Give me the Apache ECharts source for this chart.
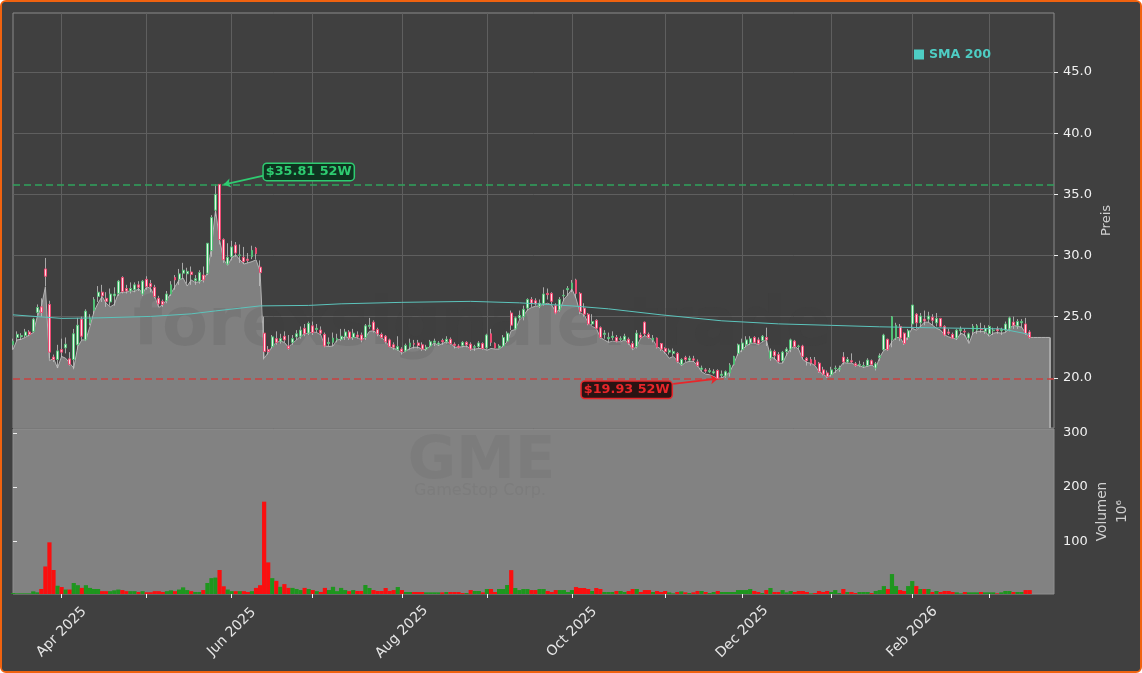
<!DOCTYPE html>
<html>
<head>
<meta charset="utf-8">
<title>GME</title>
<style>
html,body{margin:0;padding:0;background:#fff;}
#main{width:1142px;height:673px;box-sizing:border-box;border:2px solid #f0620f;border-radius:6px;background:#404040;overflow:hidden;}
</style>
<script src="https://cdn.jsdelivr.net/npm/echarts@6/dist/echarts.min.js"></script>
</head>
<body>
<div id="main"></div>
<script>
// candles: open, close, low, high per trading day
var candles=[
[22.7,23.0,22.3,23.2],[23.3,23.55,23.0,23.8],[23.35,23.45,23.1,23.65],[23.45,23.75,23.3,24.0],[23.75,23.55,23.4,23.9],[23.8,24.8,23.7,24.9],[25.35,25.75,25.1,26.0],[25.8,25.35,25.0,26.5],[28.9,28.3,27.5,29.8],[26.0,22.1,21.6,26.3],
[21.7,21.5,21.3,21.9],[21.5,22.2,20.8,22.7],[22.3,22.1,21.7,23.2],[22.45,22.75,22.0,23.3],[21.55,21.1,21.0,22.1],[21.5,23.6,20.7,24.0],[22.7,24.3,22.3,24.9],[24.8,23.4,23.1,25.0],[23.1,25.45,23.0,25.6],[24.5,24.9,24.3,25.2],
[25.5,26.4,25.2,26.6],[26.65,27.0,26.2,27.5],[27.0,26.7,26.2,27.6],[26.5,26.25,25.8,27.0],[26.2,26.85,25.9,27.3],[26.7,26.85,25.9,27.4],[26.9,27.9,26.7,28.0],[28.2,27.05,26.9,28.3],[27.3,27.1,26.9,27.6],[27.1,27.3,26.9,27.8],
[27.2,27.6,27.0,27.8],[27.6,27.4,27.1,27.9],[26.85,27.9,26.7,28.0],[28.05,27.45,27.2,28.3],[27.7,27.45,27.0,28.0],[27.4,26.65,26.5,27.6],[26.5,26.05,25.9,26.7],[26.25,26.0,25.8,26.4],[26.3,26.85,26.1,27.1],[26.85,27.6,26.7,27.9],
[28.2,28.0,27.2,28.4],[28.05,28.5,27.6,28.9],[28.55,28.8,28.1,29.4],[28.5,28.7,27.7,29.0],[28.65,28.45,27.6,29.1],[27.95,28.1,27.6,28.4],[27.9,28.6,27.7,28.8],[28.4,28.0,27.8,29.1],[28.55,31.0,28.4,31.0],[30.4,33.1,29.9,33.3],
[33.7,35.0,33.2,35.81],[35.81,31.3,30.9,35.81],[31.3,29.65,29.4,31.4],[29.3,29.85,29.2,31.0],[29.9,30.7,29.6,31.2],[30.85,30.2,29.9,31.1],[30.0,30.05,29.4,30.9],[29.85,29.5,29.3,30.7],[29.7,29.6,29.4,30.2],[29.9,30.4,29.7,30.8],
[30.6,30.15,29.7,30.7],[29.05,28.6,27.5,29.6],[23.65,22.15,21.5,25.0],[22.3,22.15,21.9,22.6],[22.55,23.35,22.4,23.5],[23.2,22.9,22.7,23.8],[23.0,23.2,22.8,23.6],[23.4,23.1,22.9,23.8],[22.6,22.4,22.3,23.5],[22.9,23.2,22.7,23.5],
[23.35,23.6,23.1,23.9],[23.4,23.9,23.2,24.2],[24.05,23.6,23.4,24.4],[23.65,24.45,23.5,24.6],[24.25,23.7,23.5,24.6],[23.95,24.05,23.7,24.4],[23.9,23.65,23.5,24.2],[23.55,22.6,22.5,23.7],[22.8,22.9,22.6,23.3],[22.9,23.25,22.6,23.7],
[23.1,23.2,22.9,23.6],[23.15,23.4,23.0,24.0],[23.4,23.75,23.1,24.0],[23.75,23.25,23.1,23.9],[23.3,23.65,23.1,24.0],[23.5,23.35,23.2,23.8],[23.5,23.1,22.9,23.7],[23.3,24.25,23.1,24.4],[24.2,24.3,24.0,24.9],[24.55,23.9,23.7,24.7],
[23.95,23.6,23.4,24.1],[23.55,23.3,23.2,23.7],[23.4,22.95,22.8,23.5],[23.1,22.55,22.5,23.2],[22.7,22.5,22.3,22.9],[22.3,22.55,22.2,23.4],[22.35,22.15,21.9,22.5],[22.2,22.65,22.1,22.8],[22.55,22.85,22.3,23.2],[22.8,22.75,22.4,23.1],
[22.85,22.65,22.4,23.1],[22.7,22.35,22.2,22.9],[22.35,22.5,22.2,22.7],[22.6,22.95,22.5,23.1],[22.9,23.0,22.6,23.2],[22.75,22.85,22.6,23.0],[23.05,22.95,22.7,23.2],[22.95,23.15,22.8,23.4],[23.15,22.8,22.7,23.3],[22.75,22.65,22.4,22.9],
[22.6,22.5,22.4,22.75],[22.65,22.9,22.5,23.0],[22.9,22.7,22.5,23.0],[22.75,22.35,22.2,22.9],[22.5,22.55,22.2,22.7],[22.55,22.85,22.4,23.0],[22.8,22.4,22.3,22.9],[22.45,23.5,22.3,23.6],[23.6,22.9,22.6,24.0],[22.8,22.45,22.4,22.9],
[22.45,22.6,22.4,22.75],[22.6,23.3,22.5,23.5],[23.0,23.65,22.9,23.8],[25.3,24.3,23.9,25.5],[24.0,24.9,23.9,25.0],[24.9,25.1,24.7,25.5],[25.0,25.6,24.7,25.9],[25.7,26.4,25.5,26.5],[26.4,26.1,25.8,26.6],[26.3,26.05,25.9,26.5],
[25.85,26.1,25.7,26.4],[26.05,26.85,25.9,27.4],[26.9,26.8,26.4,27.3],[26.9,26.25,26.0,27.0],[25.9,25.3,25.2,26.1],[25.55,26.4,25.4,26.6],[26.7,26.75,26.3,27.2],[27.2,27.3,26.7,27.5],[27.3,27.75,27.0,28.0],[28.0,26.9,26.5,28.1],
[26.9,25.4,25.2,27.0],[25.7,25.2,25.0,26.1],[25.2,24.4,24.3,25.3],[24.4,24.6,24.3,25.2],[24.7,24.05,24.0,24.8],[24.1,23.3,23.2,24.2],[23.55,23.65,23.2,23.9],[23.2,23.3,22.9,23.7],[23.3,23.4,23.1,23.8],[23.3,23.0,22.9,23.5],
[23.15,23.2,23.0,23.4],[23.1,23.4,23.0,23.6],[23.15,22.85,22.7,23.3],[22.8,22.45,22.3,23.0],[22.55,23.65,22.4,23.9],[23.5,23.3,23.2,23.7],[24.55,23.6,23.4,24.6],[23.55,23.3,23.2,23.7],[23.1,23.25,22.9,23.5],[23.25,22.5,22.4,23.3],
[22.8,22.35,22.2,22.85],[22.4,22.15,22.0,22.5],[22.1,22.25,21.9,22.4],[22.0,22.15,21.8,22.4],[22.0,21.35,21.2,22.1],[21.1,21.5,21.0,21.6],[21.65,21.5,21.3,21.8],[21.45,21.6,21.3,21.8],[21.55,21.45,21.3,21.8],[21.3,21.0,20.9,21.5],
[20.7,20.8,20.5,21.0],[20.65,20.55,20.4,20.8],[20.5,20.6,20.4,20.8],[20.4,20.5,20.3,20.7],[20.6,19.95,19.93,20.7],[20.2,20.3,20.0,20.6],[20.15,20.5,20.0,20.6],[20.4,21.05,20.1,21.2],[21.1,21.75,21.0,21.8],[22.0,22.7,21.8,22.8],
[22.3,22.85,22.1,23.2],[22.7,23.1,22.5,23.4],[22.85,23.2,22.7,23.4],[23.3,22.9,22.8,23.4],[23.1,22.8,22.7,23.3],[23.05,23.4,22.9,23.5],[23.3,23.1,22.6,24.1],[21.6,22.2,21.4,22.4],[22.15,21.8,21.5,22.3],[21.9,21.35,21.2,22.1],
[21.4,22.1,21.2,22.2],[22.15,22.35,21.8,22.5],[22.35,23.1,22.1,23.2],[23.0,22.55,22.4,23.1],[22.55,22.6,22.3,22.7],[22.6,21.75,21.5,22.7],[21.6,21.4,21.0,21.7],[21.5,21.2,21.0,21.7],[21.45,21.05,21.0,21.7],[21.2,20.5,20.4,21.3],
[20.65,20.3,20.2,20.9],[20.4,20.1,20.0,20.6],[20.25,20.65,20.1,20.9],[20.75,20.8,20.4,21.0],[20.7,20.8,20.5,21.0],[21.7,21.3,21.1,22.1],[21.3,21.5,21.2,21.7],[21.4,21.3,21.2,22.0],[21.15,21.0,20.9,21.3],[21.05,21.1,20.9,21.4],
[20.95,21.0,20.8,21.3],[21.0,21.45,20.9,21.6],[21.4,21.1,21.0,21.5],[20.8,21.15,20.6,21.3],[21.65,21.8,21.4,22.0],[22.3,23.5,22.2,23.6],[23.15,22.3,22.2,23.2],[23.1,25.0,22.5,25.05],[23.25,24.3,23.1,24.5],[24.2,23.25,23.0,24.4],
[23.65,22.8,22.7,23.7],[23.3,23.85,23.1,24.0],[24.4,25.95,24.0,25.95],[25.2,24.5,24.0,25.3],[24.5,25.05,24.1,25.3],[24.8,24.65,24.3,25.5],[24.8,25.05,24.5,25.4],[24.95,24.7,24.3,25.2],[24.5,24.85,24.2,25.3],[24.85,24.2,24.1,24.9],
[24.2,23.5,23.4,24.3],[23.75,23.65,23.5,24.0],[23.55,23.25,23.2,23.7],[23.25,23.9,23.1,24.0],[23.85,23.95,23.5,24.2],[23.8,23.75,23.4,24.0],[23.25,23.6,22.9,23.7],[23.8,24.2,23.5,24.4],[23.9,24.25,23.6,24.4],[24.0,23.95,23.7,24.5],
[23.8,24.05,23.6,24.3],[23.6,24.2,23.4,24.3],[23.85,23.9,23.5,24.1],[24.0,23.85,23.6,24.2],[23.85,23.95,23.5,24.1],[23.9,24.4,23.7,24.6],[24.0,24.9,23.8,25.0],[24.55,24.3,24.0,25.0],[24.25,24.6,24.0,24.8],[24.5,24.6,24.1,24.8],
[24.4,23.6,23.5,24.9],[23.75,23.3,23.2,23.9]
];
// the grey line and fill under the candles
var areaLine=[
22.3,23.1,23.15,23.3,23.5,23.7,25.0,25.8,27.45,21.4,
21.6,20.8,21.75,21.6,21.2,20.8,22.55,23.1,23.1,24.2,
25.4,26.1,26.65,26.1,25.8,26.0,26.9,27.0,27.0,27.15,
27.05,27.3,26.9,27.45,27.3,26.65,25.75,26.0,26.4,26.9,
27.45,28.0,28.15,27.5,28.0,27.8,27.85,28.05,28.55,30.7,
33.7,31.3,29.65,29.2,29.8,30.05,29.65,29.3,29.4,29.5,
29.65,28.7,21.6,22.05,22.55,22.9,23.0,22.9,22.5,22.83,
23.1,23.4,23.6,23.65,23.76,23.7,23.5,22.6,22.56,22.6,
23.1,23.15,23.4,23.25,23.3,23.3,23.1,23.3,23.8,23.85,
23.6,23.3,22.95,22.55,22.4,22.3,22.0,22.2,22.4,22.5,
22.5,22.35,22.3,22.6,22.85,22.65,22.8,22.95,22.85,22.5,
22.5,22.55,22.6,22.35,22.35,22.4,22.4,22.25,22.4,22.35,
22.35,22.6,22.95,23.85,23.95,24.7,25.05,25.55,25.75,25.85,
25.9,26.0,26.1,25.95,25.4,25.55,26.4,26.8,27.25,26.5,
25.3,25.15,24.5,24.2,24.05,23.3,23.1,22.9,23.0,22.95,
22.95,23.1,22.85,22.3,22.6,23.25,23.45,23.3,23.1,22.55,
22.35,22.05,21.6,21.75,21.4,21.0,21.25,21.35,21.35,21.0,
20.5,20.3,20.25,20.1,19.95,20.0,20.2,20.5,21.2,22.0,
22.3,22.6,22.8,22.85,22.7,22.95,23.1,21.7,21.6,21.2,
21.2,21.9,22.4,22.6,22.3,21.5,21.25,21.2,21.0,20.5,
20.3,20.05,20.25,20.5,20.8,21.25,21.2,21.2,21.05,21.0,
20.85,20.95,21.05,20.8,21.7,22.25,22.4,22.95,23.3,23.3,
22.75,23.5,24.05,23.9,24.2,24.55,24.55,24.3,24.05,23.9,
23.5,23.35,23.25,23.15,23.65,23.5,22.8,23.65,23.8,23.8,
23.8,23.4,23.65,23.7,23.65,23.7,24.05,24.3,24.2,24.15,
23.65,23.3,23.3,23.3,23.3,23.3,23.3
];
// volumes in millions, u = green bar, d = red bar
var volumes=[
4.5,4,4,4,4,7.6,5.8,12,53.5,98,
47,18,15.6,11,11,23,19,14,19,14,
12,12,8,8,8,9.5,11,10,8,8,
8,6.5,8,6,6,8,8,6.5,8,9.5,
8,11,15,10,8,6.5,6.5,10,23,32,
33,47,17,11,8,8,8,8,6.5,8,
14,19,173,61,32,27,16,21,14,14,
12,10,14,12,10,8,6.5,14,10,16,
8,14,10,8,10,8.3,8.3,19.3,13.8,10,
8.3,8.3,13.8,8.3,10,15.6,10,6.4,6.4,6.4,
6.4,6.4,5.8,5.8,5.8,5.8,5.8,6.4,6.4,6.4,
6.4,4.6,4.6,10,8.3,8.3,5.8,12,12,6.4,
12,12,19.3,46.8,13.8,10,12,12,10,10,
12,12,8.3,6.4,10,10,10,6.4,10,15.6,
13.8,13.8,12,8.3,13.8,12,6.4,6.4,6.4,8.3,
8.3,6.4,8.3,12,12,6.4,10,10,6.4,8.3,
6.4,8.3,5.8,4,6.4,7.6,5.8,4.6,5.8,8.3,
8.3,6.4,4.6,6.4,8.3,6.4,6.4,6.4,6.4,10,
10,10,12,8.3,6.4,4.6,10,13.8,6.4,6.4,
10,5.8,8.3,6.4,8.3,8.3,6.4,4,4.6,8.3,
6.4,8.3,6.4,10,4.6,12,6.4,6.4,4.6,6.4,
6.4,6.4,4.6,8.3,10,17.4,12,39.5,17.4,10,
8.3,17.4,26.6,17.4,12,12,12,6.4,8.3,6.4,
8.3,8.3,6.4,5.8,4,6.4,5.8,5.8,5.8,6.4,
5.8,5.8,5.8,4,5.8,8.3,8.3,6.4,6.4,6.4,
10,10
];
var volumeDirs=("uuuuuuuddd"+"dududuuduu"+"uudduuuddu"+"ududdddduu"+"duuuduuduu"+"udduududdu"+"ddddududdu"+"uudududduu"
+"uuududduud"+"ddddduduud"+"dduuuududd"+"dduduududd"+"uuuduuuudd"+"uuddduuuud"+"dddudduuud"+"uuddudddud"+"dduudududd"
+"uduuduuuuu"+"uuuddududd"+"uuuddddudd"+"dduuududdu"+"uuduuuduud"+"duudududud"+"ddduuduuud"+"uuuduuuduu"+"dd").split("");
// SMA 200 read at these day numbers
var smaDays=[0,12,21,34,44,50,61,73,81,96,113,125,138,147,160,175,189,202,214,229,244,251];
var smaValues=[25.15,24.86,24.9,25.02,25.23,25.47,25.88,25.92,26.05,26.17,26.25,26.13,25.88,25.64,25.15,24.66,24.41,24.29,24.17,24.08,24.0,23.55];
var priceTicks=[20,25,30,35,40,45];
var volumeTicks=[100,200,300];
var high52=35.81,low52=19.93;
var priceMin=15.9,priceMax=49.82,volumeMin=2.75,volumeMax=307;
var lastDay=256;	//the fill stops here

// trading days from 14 Mar 2025, weekdays without the exchange holidays
var holidays=["2025-04-18","2025-05-26","2025-06-19","2025-07-04","2025-09-01","2025-11-27","2025-12-25","2026-01-01","2026-01-19","2026-02-16"];
var days=[];
var d=new Date(Date.UTC(2025,2,14));
while(days.length<258){
	var s=d.toISOString().slice(0,10);
	if(d.getUTCDay()!=0&&d.getUTCDay()!=6&&holidays.indexOf(s)<0)days.push(s);
	d=new Date(d.getTime()+86400000);
}
// first trading day of every month gets a tick, every second tick gets a label
var monthNames=["Jan","Feb","Mar","Apr","May","Jun","Jul","Aug","Sep","Oct","Nov","Dec"];
var tickDays=[],labelDays=[];
for(var i=1;i<days.length;i++){
	if(days[i].slice(5,7)!=days[i-1].slice(5,7)){
		if(tickDays.length%2==0)labelDays.push(i);
		tickDays.push(i);
	}
}
function isTick(i){return tickDays.indexOf(i)>=0;}

var FONT="DejaVu Sans";
var hiddenLine={show:true,lineStyle:{color:"transparent"}};
var myChart=echarts.init(document.getElementById("main"),null,{width:1138,height:669});
// grid offsets are page pixels minus the 2px border
var option={
	animation:false,
	backgroundColor:"#404040",
	textStyle:{fontFamily:FONT},
	legend:{
		data:["SMA 200"],left:907,top:41,icon:"rect",itemWidth:10,itemHeight:10,itemGap:5,selectedMode:false,
		textStyle:{color:"#4ecdc4",fontWeight:"bold",fontSize:12.6,fontFamily:FONT}
	},
	grid:[
		{left:11,right:86,top:11,height:415,outerBoundsMode:"none",show:true,backgroundColor:"transparent",borderColor:"#8a8a8a",borderWidth:1},
		{left:11,right:86,top:427,height:165,outerBoundsMode:"none",show:true,backgroundColor:"#828282",borderColor:"#8f8f8f",borderWidth:1}
	],
	xAxis:[
		{
			type:"category",gridIndex:0,data:days,boundaryGap:false,
			axisLine:{show:false},axisTick:{show:false},axisLabel:{show:false},
			splitLine:{show:true,interval:function(i){return isTick(i);},lineStyle:{color:"#5f5f5f",width:1}}
		},
		{
			// day numbers on a value axis so the bars stay in step with the candles above
			type:"value",gridIndex:1,min:0,max:days.length-1,containShape:false,
			axisLine:hiddenLine,
			axisTick:{show:true,length:4,customValues:tickDays,lineStyle:{color:"#eeeeee",width:1}},
			axisLabel:{
				customValues:labelDays,rotate:45,align:"center",verticalAlign:"middle",color:"#e6e6e6",fontSize:14,fontFamily:FONT,margin:38,
				formatter:function(n){var v=days[n];return monthNames[parseInt(v.slice(5,7),10)-1]+" "+v.slice(0,4);}
			},
			splitLine:{show:false}
		}
	],
	yAxis:[
		{
			type:"value",gridIndex:0,position:"right",min:priceMin,max:priceMax,
			name:"Preis",nameLocation:"middle",nameRotate:90,nameGap:46,nameMoveOverlap:false,nameTextStyle:{color:"#d0d0d0",fontSize:13,fontFamily:FONT},
			axisLine:hiddenLine,
			axisTick:{show:true,length:4,customValues:priceTicks,lineStyle:{color:"#eeeeee"}},
			axisLabel:{customValues:priceTicks,color:"#f0f0f0",fontSize:13,fontFamily:FONT,margin:9,formatter:function(v){return v.toFixed(1);}},
			splitLine:{show:true,lineStyle:{color:"#5f5f5f",width:1}}
		},
		{
			type:"value",gridIndex:1,position:"right",min:volumeMin,max:volumeMax,
			name:"Volumen\n10\u2076",nameLocation:"middle",nameRotate:90,nameGap:38,nameMoveOverlap:false,nameTextStyle:{color:"#d0d0d0",fontSize:13.7,lineHeight:20,fontFamily:FONT},
			axisLine:hiddenLine,
			axisTick:{show:true,length:4,customValues:volumeTicks,lineStyle:{color:"#eeeeee"}},
			axisLabel:{customValues:volumeTicks,color:"#f0f0f0",fontSize:13,fontFamily:FONT,margin:9},
			splitLine:{show:false}
		}
	],
	graphic:[
		{type:"text",z:3,silent:true,x:480,y:326,style:{text:"forexsignale.trade",textAlign:"center",textVerticalAlign:"middle",fill:"rgba(60,60,60,0.12)",font:"bold 67px 'DejaVu Sans'"}},
		{type:"text",z:3,silent:true,x:479.5,y:461,style:{text:"GME",textAlign:"center",textVerticalAlign:"middle",fill:"rgba(50,50,50,0.07)",font:"bold 59px 'DejaVu Sans'"}},
		{type:"text",z:3,silent:true,x:478,y:489,style:{text:"GameStop Corp.",textAlign:"center",textVerticalAlign:"middle",fill:"rgba(50,50,50,0.07)",font:"16px 'DejaVu Sans'"}}
	],
	series:[
		{
			name:"Kurs",type:"line",xAxisIndex:0,yAxisIndex:0,z:2,data:areaLine,showSymbol:false,
			lineStyle:{color:"#b4b4b4",width:1},areaStyle:{color:"#808080",opacity:1,origin:"start"},
			markLine:{
				silent:true,symbol:"none",animation:false,label:{show:false},
				lineStyle:{color:"#a6a6a6",width:2,type:"solid"},
				data:[[{coord:[lastDay,areaLine[lastDay]]},{coord:[lastDay,priceMin]}]]
			}
		},
		{
			name:"SMA 200",type:"line",xAxisIndex:0,yAxisIndex:0,z:6,showSymbol:false,
			data:smaDays.map(function(x,i){return [x,smaValues[i]];}),
			itemStyle:{color:"#4ecdc4"},lineStyle:{color:"#5cc4bc",width:1}
		},
		{
			// wicks
			name:"Docht",type:"candlestick",xAxisIndex:0,yAxisIndex:0,z:4,barWidth:0.5,data:candles,
			itemStyle:{color:"#c4c4c4",color0:"#c4c4c4",borderColor:"#c4c4c4",borderColor0:"#c4c4c4",borderWidth:0.8}
		},
		{
			// bodies, wicks left out
			name:"Kerzen",type:"candlestick",xAxisIndex:0,yAxisIndex:0,z:5,barWidth:2.4,
			data:candles.map(function(c){return [c[0],c[1],Math.min(c[0],c[1]),Math.max(c[0],c[1])];}),
			itemStyle:{color:"#e4f5e8",color0:"#ffdbe4",borderColor:"#52bf76",borderColor0:"#ee4a72",borderWidth:1},
			markLine:{
				silent:true,symbol:"none",animation:false,label:{show:false},
				data:[
					{yAxis:high52,lineStyle:{color:"#2fa35c",width:1.6,type:[7,4]}},
					{yAxis:low52,lineStyle:{color:"#c9403f",width:1.6,type:[7,4]}},
					[{coord:[63,36.6],symbol:"none",lineStyle:{color:"#2ecc71",width:1.8,type:"solid"}},{coord:[52,35.8],symbol:"arrow",symbolSize:7}],
					[{coord:[163,19.5],symbol:"none",lineStyle:{color:"#e8262a",width:1.8,type:"solid"}},{coord:[174,19.93],symbol:"arrow",symbolSize:7}]
				]
			},
			markPoint:{
				silent:true,symbol:"rect",symbolSize:1,animation:false,itemStyle:{color:"transparent"},
				data:[
					{coord:[73,36.83],label:{show:true,position:"inside",formatter:"$35.81 52W",color:"#2ecc71",fontWeight:"bold",fontSize:12.8,fontFamily:FONT,backgroundColor:"#0f3320",borderColor:"#2ecc71",borderWidth:1.5,borderRadius:3,padding:[2,2,1,2]}},
					{coord:[152,19.02],label:{show:true,position:"inside",offset:[-2,0],formatter:"$19.93 52W",color:"#e8262a",fontWeight:"bold",fontSize:12.8,fontFamily:FONT,backgroundColor:"#2b1313",borderColor:"#e8262a",borderWidth:1.5,borderRadius:3,padding:[2,2,1,2]}}
				]
			}
		},
		{
			name:"Volumen",type:"bar",xAxisIndex:1,yAxisIndex:1,barWidth:4.2,
			data:volumes.map(function(v,i){
				return {value:[i,v],itemStyle:{color:volumeDirs[i]=="u"?"#1e961e":"#fa0f0f"}};
			})
		}
	]
};
myChart.setOption(option);
</script>
</body>
</html>
